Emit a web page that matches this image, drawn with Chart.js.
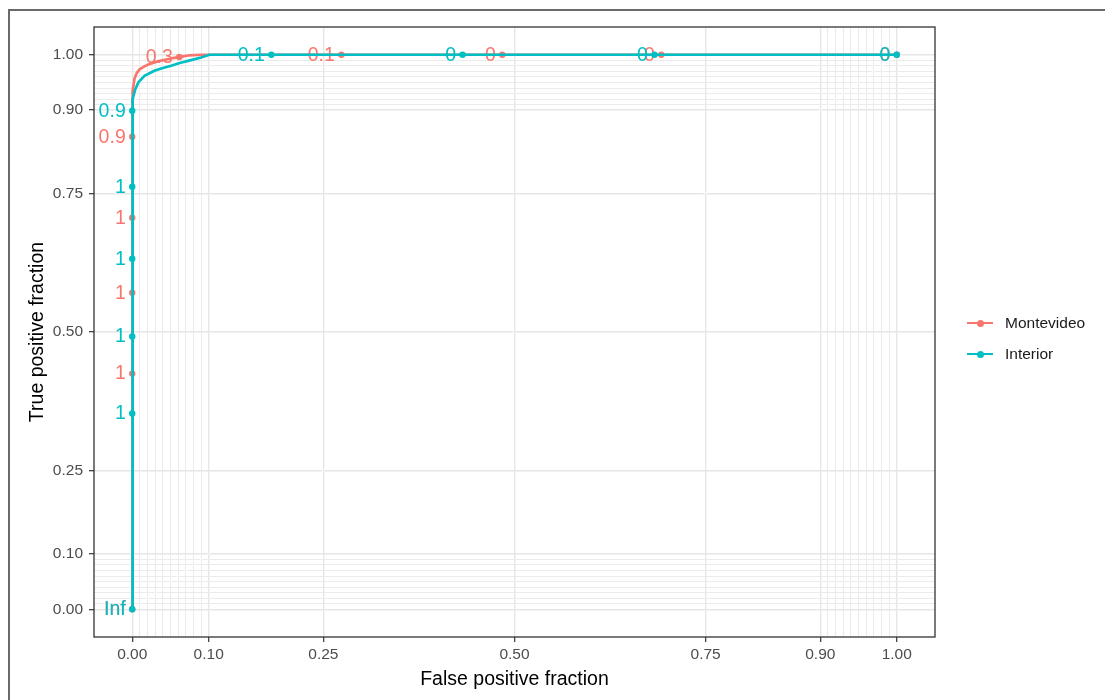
<!DOCTYPE html>
<html>
<head>
<meta charset="utf-8">
<script src="https://cdn.jsdelivr.net/npm/chart.js@4.4.1/dist/chart.umd.min.js"></script>
<style>
  html, body { margin:0; padding:0; background:#fff; width:1105px; height:700px; overflow:hidden; font-family:"Liberation Sans", Arial, sans-serif; }
  #wrap { position:absolute; left:0; top:0; width:1105px; height:700px; }
  #c { position:absolute; left:0; top:0; }
  #frame { position:absolute; left:8px; top:9px; width:1300px; height:900px; border-left:2px solid #6a6a6a; border-top:2px solid #6a6a6a; pointer-events:none; }
  .leg { position:absolute; left:967px; height:20px; transform:translateY(-50%); }
  .leg .ln { position:absolute; left:0; top:8.7px; width:26px; height:2.8px; }
  .leg .dt { position:absolute; left:9.5px; top:6.8px; width:7px; height:7px; border-radius:50%; }
  .leg .tx { position:absolute; left:38px; top:0; line-height:20px; font-size:15.5px; color:#1a1a1a; white-space:nowrap; }
</style>
</head>
<body>
<div id="wrap">
  <canvas id="c" width="1105" height="700"></canvas>
  <div id="frame"></div>
  <div id="legend"></div>
</div>
<script>
// ---- data ----
const seriesNames = ['Montevideo', 'Interior'];
const seriesColors = ['#F8766D', '#00BFC4'];

const majorBreaks = [0, 0.1, 0.25, 0.5, 0.75, 0.9, 1];
const minorBreaks = [0.01, 0.02, 0.03, 0.04, 0.05, 0.06, 0.07, 0.08, 0.09,
                     0.91, 0.92, 0.93, 0.94, 0.95, 0.96, 0.97, 0.98, 0.99];

// ROC curve paths
const montevideoFPR = [0, 0, 0.001, 0.003, 0.006, 0.010, 0.016, 0.024, 0.033, 0.043, 0.053, 0.063, 0.075, 0.09, 1];
const montevideoTPR = [0, 0.87, 0.935, 0.957, 0.967, 0.974, 0.979, 0.984, 0.988, 0.991, 0.994, 0.996, 0.999, 1, 1];
const interiorFPR   = [0, 0, 0.001, 0.004, 0.008, 0.016, 0.029, 0.040, 0.051, 0.062, 0.073, 0.082, 0.090, 0.101, 1];
const interiorTPR   = [0, 0.9, 0.920, 0.938, 0.950, 0.962, 0.971, 0.976, 0.980, 0.985, 0.989, 0.992, 0.995, 1, 1];

// labelled cutoffs
const montevideoCutFPR = [0, 0, 0, 0, 0, 0.0615, 0.2735, 0.484, 0.692, 1];
const montevideoCutTPR = [0, 0.425, 0.571, 0.706, 0.852, 0.996, 1, 1, 1, 1];
const montevideoCutLabels = ['Inf', '1', '1', '1', '0.9', '0.3', '0.1', '0', '0', '0'];
const interiorCutFPR = [0, 0, 0, 0, 0, 0, 0.182, 0.432, 0.683, 1];
const interiorCutTPR = [0, 0.353, 0.492, 0.632, 0.762, 0.899, 1, 1, 1, 1];
const interiorCutLabels = ['Inf', '1', '1', '1', '1', '0.9', '0.1', '0', '0', '0'];

const axisTitleX = 'False positive fraction';
const axisTitleY = 'True positive fraction';

// ---- build ----
const toXY = (xs, ys) => xs.map((x, i) => ({ x: x, y: ys[i] }));
const allBreaks = majorBreaks.concat(minorBreaks);
const isMajor = v => majorBreaks.some(b => Math.abs(b - v) < 1e-9);
const FONT = '"Liberation Sans", Arial, sans-serif';

const datasets = [
  { label: 'diag', data: [{x:0,y:0},{x:1,y:1}], showLine: true, borderColor: '#ffffff', borderWidth: 1, pointRadius: 0, order: 10 },
  { label: seriesNames[0], data: toXY(montevideoFPR, montevideoTPR), showLine: true, borderColor: seriesColors[0], borderWidth: 2.7, pointRadius: 0, order: 9 },
  { label: seriesNames[0] + ' cuts', data: toXY(montevideoCutFPR, montevideoCutTPR), showLine: false, backgroundColor: seriesColors[0], borderColor: seriesColors[0], borderWidth: 0, pointRadius: 3.2, cutLabels: montevideoCutLabels, order: 8 },
  { label: seriesNames[1], data: toXY(interiorFPR, interiorTPR), showLine: true, borderColor: seriesColors[1], borderWidth: 2.7, pointRadius: 0, order: 7 },
  { label: seriesNames[1] + ' cuts', data: toXY(interiorCutFPR, interiorCutTPR), showLine: false, backgroundColor: seriesColors[1], borderColor: seriesColors[1], borderWidth: 0, pointRadius: 3.2, cutLabels: interiorCutLabels, order: 6 }
];

const cutLabelPlugin = {
  id: 'cutLabels',
  afterDatasetDraw(chart, args) {
    const ds = chart.data.datasets[args.index];
    if (!ds.cutLabels) return;
    const ctx = chart.ctx;
    ctx.save();
    ctx.font = '19.5px ' + FONT;
    ctx.fillStyle = ds.borderColor;
    ctx.textAlign = 'right';
    ctx.textBaseline = 'middle';
    args.meta.data.forEach((el, i) => {
      ctx.fillText(ds.cutLabels[i], el.x - 6.5, el.y + 0.5);
    });
    ctx.restore();
  }
};

const panelBorderPlugin = {
  id: 'panelBorder',
  afterDraw(chart) {
    const a = chart.chartArea, ctx = chart.ctx;
    ctx.save();
    ctx.strokeStyle = '#333333';
    ctx.lineWidth = 1.3;
    ctx.strokeRect(a.left, a.top, a.right - a.left, a.bottom - a.top);
    ctx.restore();
  }
};

function axis(isX) {
  return {
    type: 'linear',
    min: -0.05, max: 1.05,
    afterBuildTicks: s => { s.ticks = allBreaks.map(v => ({ value: v })); },
    afterFit: s => { if (isX) s.height = 63; else s.width = 94; },
    ticks: {
      autoSkip: false, maxRotation: 0, minRotation: 0,
      color: '#4D4D4D',
      font: { family: FONT, size: 15.5 },
      padding: isX ? 3 : 6,
      callback: v => isMajor(v) ? Number(v).toFixed(2) : ''
    },
    grid: {
      color: c => (c.tick && isMajor(c.tick.value)) ? '#E6E6E6' : '#EBEBEB',
      lineWidth: c => (c.tick && isMajor(c.tick.value)) ? 1.4 : 1,
      tickColor: c => (c.tick && isMajor(c.tick.value)) ? '#333333' : 'rgba(0,0,0,0)',
      tickLength: 5,
      tickWidth: 1.2
    },
    border: { display: false },
    title: {
      display: true,
      text: isX ? axisTitleX : axisTitleY,
      color: '#000000',
      font: { family: FONT, size: 19.5 },
      padding: isX ? { top: 0, bottom: 9 } : { top: 25.5, bottom: 0 }
    }
  };
}

new Chart(document.getElementById('c'), {
  type: 'scatter',
  data: { datasets: datasets },
  options: {
    responsive: false,
    animation: false,
    devicePixelRatio: 1,
    layout: { padding: { left: 0, top: 27, right: 170, bottom: 0 } },
    plugins: { legend: { display: false }, tooltip: { enabled: false } },
    elements: { line: { tension: 0, borderCapStyle: 'butt' }, point: { pointStyle: 'circle' } },
    scales: { x: axis(true), y: axis(false) }
  },
  plugins: [cutLabelPlugin, panelBorderPlugin]
});

// legend
const legendTops = [323, 354];
const legend = document.getElementById('legend');
seriesNames.forEach((name, i) => {
  const d = document.createElement('div');
  d.className = 'leg';
  d.style.top = legendTops[i] + 'px';
  d.innerHTML = '<span class="ln" style="background:' + seriesColors[i] + '"></span>' +
                '<span class="dt" style="background:' + seriesColors[i] + '"></span>' +
                '<span class="tx"></span>';
  d.querySelector('.tx').textContent = name;
  legend.appendChild(d);
});
</script>
</body>
</html>
